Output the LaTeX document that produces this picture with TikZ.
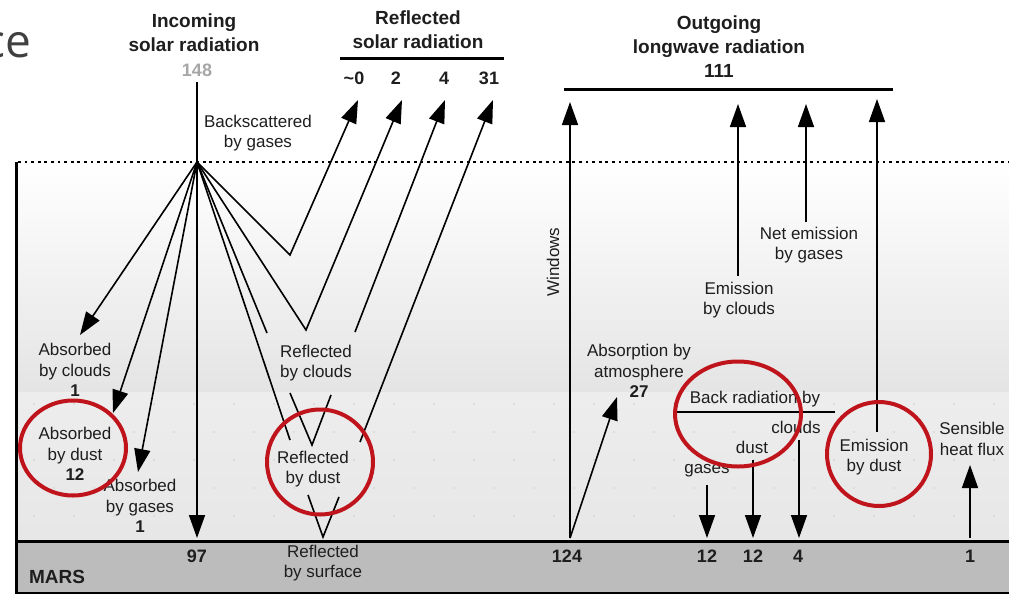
\documentclass[tikz,border=0pt]{standalone}
\usepackage{fontspec}
\setmainfont{Liberation Sans}
\newfontfamily\slidefont{Open Sans}
\usetikzlibrary{arrows.meta, shapes.geometric}
\definecolor{ringred}{RGB}{192,20,28}
\definecolor{inkgray}{RGB}{30,30,30}
\definecolor{groundgray}{RGB}{188,188,188}
\tikzset{
    lbl/.style={font=\fontsize{17}{20.5}\selectfont, align=center, inner sep=0pt, text=inkgray},
    ttl/.style={font=\fontsize{19}{24}\selectfont\bfseries, align=center, inner sep=0pt, text=inkgray},
    num/.style={font=\fontsize{18}{20}\selectfont\bfseries, inner sep=0pt, text=inkgray},
    ray/.style={line width=1.6pt, line join=miter},
    arrow/.style={ray, -{Triangle[length=23pt, width=16pt]}},
    ring/.style={ellipse, draw=ringred, line width=4pt, inner sep=0pt}
}

\begin{document}
\begin{tikzpicture}[x=1pt, y=-1pt]
    \useasboundingbox (0,0) rectangle (1009,595);

    % atmosphere and ground
    \shade[top color=white, middle color=gray!6, bottom color=gray!21] (16,162) rectangle (1009,392);
    \shade[top color=gray!14, bottom color=gray!19] (16,392) rectangle (1009,541);
    \foreach \i in {0,...,24}
        \foreach \j in {0,...,4}
            \fill[gray!38] ({34+40*\i+mod(\j,2)*20}, {404+28*\j}) circle (0.8pt);
    \fill[groundgray] (16,541) rectangle (1009,593);
    \draw[line width=3pt] (16,541) -- (1009,541);
    \draw[line width=1.5pt] (16,593) -- (1009,593);
    \draw[line width=3pt] (16,162) -- (16,594);
    \draw[line width=2.6pt, dash pattern=on 2.8pt off 3.8pt] (18,162) -- (1009,162);

    % cut-off slide title
    \begin{scope}
        \clip (0,0) rectangle (1009,595);
        \node (slide) [anchor=base west, inner sep=0pt, text=inkgray!85] at (-17,57) {\slidefont\fontsize{46}{50}\selectfont ce};
    \end{scope}

    % titles
    \node (inc) [ttl] at (194,33) {Incoming\\solar radiation};
    \node (n148) [num, text=gray!70] at (197,70) {148};
    \node (refl) [ttl] at (418,30) {Reflected\\solar radiation};
    \draw[line width=3pt] (340,58) -- (504,58);
    \node (r0) [num] at (354,78) {\textasciitilde0};
    \node (r2) [num] at (396,78) {2};
    \node (r4) [num] at (444,78) {4};
    \node (r31) [num] at (489,78) {31};
    \node (outg) [ttl] at (719,47) {Outgoing\\longwave radiation\\111};
    \draw[line width=3pt] (564,89) -- (893,89);

    % labels
    \node (back) [lbl] at (258,133) {Backscattered\\by gases};
    \node (absC) [lbl] at (75,370) {Absorbed\\by clouds\\\textbf{1}};
    \node (absD) [lbl] at (75,454) {Absorbed\\by dust\\\textbf{12}};
    \node (absG) [lbl] at (140,506) {Absorbed\\by gases\\\textbf{1}};
    \node (reflC) [lbl] at (316,363) {Reflected\\by clouds};
    \node (reflD) [lbl] at (313,469) {Reflected\\by dust};
    \node (reflS) [lbl] at (323,563) {Reflected\\by surface};
    \node (win) [lbl, rotate=90] at (553,262) {Windows};
    \node (absA) [lbl] at (639,371) {Absorption by\\atmosphere\\\textbf{27}};
    \node (emC) [lbl] at (739,300) {Emission\\by clouds};
    \node (netG) [lbl] at (809,245) {Net emission\\by gases};
    \node (backR) [lbl] at (755,399) {Back radiation by};
    \node (brC) [lbl] at (796,427) {clouds};
    \node (brD) [lbl] at (752,447) {dust};
    \node (brG) [lbl] at (707,471) {gases};
    \node (emD) [lbl] at (874,457) {Emission\\by dust};
    \node (sens) [lbl] at (972,439) {Sensible\\heat flux};
    \node (mars) [num, font=\fontsize{19}{20}\selectfont\bfseries] at (57,577) {MARS};
    \node (g97) [num] at (197,556) {97};
    \node (g124) [num] at (567,556) {124};
    \node (g12a) [num] at (707,556) {12};
    \node (g12b) [num] at (753,556) {12};
    \node (g4) [num] at (798,556) {4};
    \node (g1) [num] at (970,556) {1};

    % points of the solar rays
    \coordinate (top) at (197,82);
    \coordinate (src) at (197,162);
    \coordinate (v0) at (290,255);
    \coordinate (v2) at (306,330);
    \coordinate (c1) at (267,333);
    \coordinate (c2) at (290,393);
    \coordinate (vc) at (312,445);
    \coordinate (c3) at (331,395);
    \coordinate (c4) at (355,332);
    \coordinate (d1) at (290,440);
    \coordinate (d2) at (308,495);
    \coordinate (vd) at (323,537);
    \coordinate (d3) at (339,497);
    \coordinate (d4) at (360,442);

    % solar rays
    \draw[ray] (top) -- (src);
    \draw[arrow] (src) -- (80,335);
    \draw[arrow] (src) -- (113,413);
    \draw[arrow] (src) -- (138,472);
    \draw[arrow] (src) -- (197,538);
    \draw[arrow] (src) -- (v0) -- (358,100);
    \draw[arrow] (src) -- (v2) -- (402,100);
    \draw[ray] (src) -- (c1);
    \draw[ray] (c2) -- (vc) -- (c3);
    \draw[arrow] (c4) -- (445,100);
    \draw[ray] (src) -- (d1);
    \draw[ray] (d2) -- (vd) -- (d3);
    \draw[arrow] (d4) -- (493,100);

    % longwave rays
    \coordinate (w0) at (570,538);
    \draw[arrow] (w0) -- (570,102);
    \draw[arrow] (w0) -- (617,397);
    \draw[arrow] (738,276) -- (738,104);
    \draw[arrow] (806,222) -- (806,104);
    \draw[arrow] (877,432) -- (877,99);
    \draw[line width=1.5pt] (677,412) -- (835,412);
    \draw[arrow] (707,485) -- (707,538);
    \draw[arrow] (753,460) -- (753,538);
    \draw[arrow] (799,440) -- (799,538);
    \draw[arrow] (970,538) -- (970,465);

    % red rings
    \node (ringD) [ring, minimum width=106pt, minimum height=95pt] at (73,448) {};
    \node (ringR) [ring, minimum width=106pt, minimum height=105pt] at (320,462) {};
    \node (ringB) [ring, minimum width=126pt, minimum height=105pt] at (738,414) {};
    \node (ringE) [ring, minimum width=104pt, minimum height=104pt] at (879,454) {};
\end{tikzpicture}
\end{document}
